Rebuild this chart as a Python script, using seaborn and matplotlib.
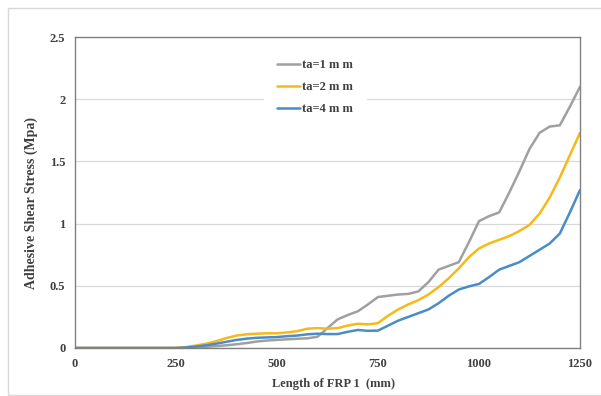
import numpy as np
import pandas as pd
import seaborn as sns
import matplotlib.pyplot as plt
from matplotlib.patches import Rectangle

# Werte (Schubspannung in MPa)
length_mm = [0, 50, 100, 150, 200, 250, 275, 300, 325, 350, 375, 400, 425, 450, 475,
             500, 525, 550, 575, 600, 625, 650, 675, 700, 725, 750, 775, 800, 825,
             850, 875, 900, 925, 950, 975, 1000, 1025, 1050, 1075, 1100, 1125, 1150,
             1175, 1200, 1225, 1250]

ta1 = [0, 0, 0, 0, 0, 0, 0.002, 0.005, 0.01, 0.015, 0.022, 0.03, 0.04, 0.052, 0.06,
       0.065, 0.07, 0.074, 0.078, 0.09, 0.16, 0.23, 0.265, 0.295, 0.35, 0.41, 0.42, 0.43, 0.435,
       0.455, 0.53, 0.63, 0.66, 0.69, 0.85, 1.02, 1.06, 1.09, 1.25, 1.42, 1.6, 1.73,
       1.78, 1.79, 1.94, 2.1]

ta2 = [0, 0, 0, 0, 0, 0, 0.008, 0.02, 0.035, 0.055, 0.08, 0.1, 0.11, 0.115, 0.118,
       0.118, 0.125, 0.135, 0.155, 0.16, 0.155, 0.16, 0.18, 0.195, 0.19, 0.2, 0.26, 0.31, 0.35,
       0.385, 0.43, 0.49, 0.56, 0.64, 0.73, 0.8, 0.84, 0.87, 0.9, 0.94, 0.99, 1.08,
       1.21, 1.37, 1.55, 1.73]

ta4 = [0, 0, 0, 0, 0, 0, 0.004, 0.012, 0.022, 0.035, 0.05, 0.065, 0.075, 0.082, 0.085,
       0.088, 0.095, 0.1, 0.11, 0.115, 0.112, 0.112, 0.13, 0.145, 0.138, 0.14, 0.18, 0.22, 0.25,
       0.28, 0.31, 0.36, 0.42, 0.47, 0.495, 0.515, 0.57, 0.63, 0.66, 0.69, 0.74, 0.79,
       0.84, 0.92, 1.09, 1.27]

series_names = ["ta=1 m m", "ta=2 m m", "ta=4 m m"]
colors = ["#A0A0A0", "#F5B91A", "#4A8CC8"]

x_ticks = [0, 250, 500, 750, 1000, 1250]
y_ticks = [0, 0.5, 1, 1.5, 2, 2.5]
y_tick_labels = ["0", "0.5", "1", "1.5", "2", "2.5"]

df = pd.DataFrame({
    "length": length_mm * 3,
    "stress": ta1 + ta2 + ta4,
    "series": [series_names[0]] * len(length_mm) + [series_names[1]] * len(length_mm)
              + [series_names[2]] * len(length_mm),
})

sns.set_theme(style="white")
plt.rcParams['font.family'] = ['Liberation Serif', 'DejaVu Serif']

fig = plt.figure(figsize=(6.01, 3.96), dpi=100)
ax = fig.add_axes([75 / 601, 1 - 348 / 396, 505 / 601, 311 / 396])

# aeusserer Rahmen wie im Excel-Bild
fig.patches.append(Rectangle((8 / 601, 0.002), 1.0, 1 - 8 / 396 - 0.002, transform=fig.transFigure,
                             fill=False, edgecolor="#D9D9D9", linewidth=1.0, zorder=0))

sns.lineplot(data=df, x="length", y="stress", hue="series", palette=colors,
             linewidth=1.8, ax=ax, legend=True)

ax.set_xlim(0, 1250)
ax.set_ylim(0, 2.5)
ax.set_xticks(x_ticks)
ax.set_yticks(y_ticks)
ax.set_yticklabels(y_tick_labels)
ax.tick_params(length=0, labelsize=9, colors="#404040")
ax.tick_params(axis="x", pad=7)
ax.tick_params(axis="y", pad=7)
for lab in ax.get_xticklabels() + ax.get_yticklabels():
    lab.set_fontweight("bold")

ax.grid(axis="y", color="#D9D9D9", linewidth=0.9)
ax.set_axisbelow(True)
for s in ax.spines.values():
    s.set_color("#808080")
    s.set_linewidth(1.0)

ax.set_xlabel("Length of FRP 1  (mm)", fontsize=9, fontweight="bold", color="#404040")
ax.set_ylabel("Adhesive Shear Stress (Mpa)", fontsize=10, fontweight="bold", color="#404040")
ax.xaxis.set_label_coords(0.511, -0.097)
ax.yaxis.set_label_coords(-0.074, 0.466)

leg = ax.legend(loc="upper left", bbox_to_anchor=(264 / 601, 1 - 47 / 396),
                bbox_transform=fig.transFigure, frameon=True, fontsize=9,
                handlelength=1.9, handletextpad=0.15, labelspacing=0.8, borderpad=1.0,
                borderaxespad=0)
leg.get_frame().set_facecolor("white")
leg.get_frame().set_edgecolor("white")
leg.get_frame().set_alpha(1.0)
for t in leg.get_texts():
    t.set_fontweight("bold")
    t.set_color("#404040")

fig.savefig("out.png", dpi=100)
plt.close(fig)
